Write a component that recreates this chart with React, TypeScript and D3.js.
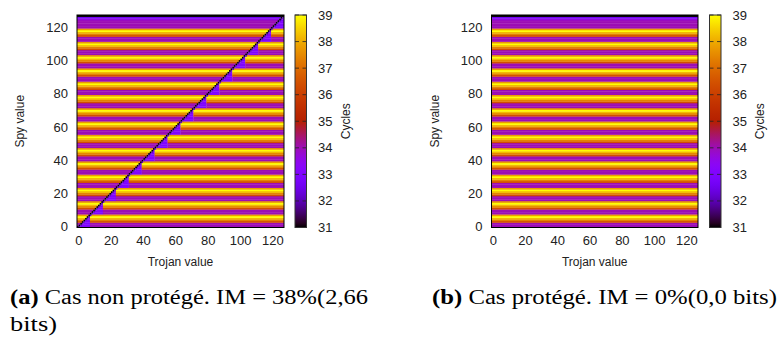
import React from 'react';
import * as d3 from 'd3';

// ---- data ----
const SPY_COUNT = 128;
const TROJAN_COUNT = 128;
const LINE_SIZE = 8;
// cycles measured for a spy value, by its offset inside the cache line (0..7)
const lineOffsetCycles = [34, 34, 34, 36.4, 37.4, 38.2, 39, 37.8];
// special rows at the very top
const topRowSpy = [127, 126, 125, 124, 123];
const topRowCycles = [31, 32.6, 33.6, 34, 34];
// leak (unprotected case)
const diagonalCycles = 31;
const nearDiagonalCycles = 32.2;
const sameLineCycles = 33;
const cbTicks = [31, 32, 33, 34, 35, 36, 37, 38, 39];
const axisTicks = [0, 20, 40, 60, 80, 100, 120];
const captions = [
  { tag: '(a)', text: ' Cas non protégé. IM = 38%(2,66', line2: 'bits)' },
  { tag: '(b)', text: ' Cas protégé. IM = 0%(0,0 bits)', line2: '' },
];

const CB_MIN = 31, CB_MAX = 39;

function palette(v: number) {
  const x = Math.max(0, Math.min(1, (v - CB_MIN) / (CB_MAX - CB_MIN)));
  const r = Math.sqrt(x);
  const g = x * x * x;
  const b = Math.max(0, Math.sin(2 * Math.PI * x));
  return d3.rgb(r * 255, g * 255, b * 255).formatHex();
}

function baseCycles(s: number) {
  const k = topRowSpy.indexOf(s);
  if (k >= 0) return topRowCycles[k];
  return lineOffsetCycles[s % LINE_SIZE];
}

function leakyCycles(t: number, s: number) {
  if (topRowSpy.indexOf(s) === 0) return topRowCycles[0];
  if (t === s) return diagonalCycles;
  if (t === s + 1) return Math.min(nearDiagonalCycles, baseCycles(s));
  const g = Math.floor(s / LINE_SIZE);
  if (t > s && t < (g + 1) * LINE_SIZE) return Math.min(sameLineCycles, baseCycles(s));
  return baseCycles(s);
}

const spyValues = d3.range(SPY_COUNT);
const trojanValues = d3.range(TROJAN_COUNT);

type Panel = {
  x0: number; x1: number; cbx: number; cbLabelX: number; cyclesX: number; spyX: number;
  fn: (t: number, s: number) => number; id: string;
};

const Y0 = 15, Y1 = 227.5;
const FONT = 'Liberation Sans, Arial, sans-serif';

function Heatmap({ p }: { p: Panel }) {
  const x = d3.scaleLinear().domain([-0.5, 127.5]).range([p.x0, p.x1]);
  const y = d3.scaleLinear().domain([-0.5, 127.5]).range([Y1, Y0]);
  const rects: JSX.Element[] = [];
  spyValues.forEach((s) => {
    let start = 0;
    let cur = p.fn(trojanValues[0], s);
    for (let i = 1; i <= trojanValues.length; i++) {
      const v = i < trojanValues.length ? p.fn(trojanValues[i], s) : NaN;
      if (v !== cur) {
        const xa = x(trojanValues[start] - 0.5), xb = x(trojanValues[i - 1] + 0.5);
        rects.push(
          <rect key={s + '-' + start} x={xa} width={xb - xa + 0.2} y={y(s + 0.5)}
            height={y(s - 0.5) - y(s + 0.5) + 0.3} fill={palette(cur)} />
        );
        start = i; cur = v;
      }
    }
  });
  const cbScale = d3.scaleLinear().domain([CB_MIN, CB_MAX]).range([Y1, Y0]);
  const stops = d3.range(0, 1.0001, 0.02);
  const cx = (p.x0 + p.x1) / 2;
  return (
    <g>
      <defs>
        <clipPath id={'clip' + p.id}><rect x={p.x0} y={Y0} width={p.x1 - p.x0} height={Y1 - Y0} /></clipPath>
        <linearGradient id={'grad' + p.id} x1="0" y1="1" x2="0" y2="0">
          {stops.map((f) => <stop key={f} offset={f} stopColor={palette(CB_MIN + f * (CB_MAX - CB_MIN))} />)}
        </linearGradient>
      </defs>
      <g clipPath={`url(#clip${p.id})`}>{rects}</g>
      <rect x={p.x0} y={Y0} width={p.x1 - p.x0} height={Y1 - Y0} fill="none" stroke="#000" strokeWidth={1} />
      {axisTicks.map((t) => (
        <text key={'x' + t} x={x(t) + 1} y={245} textAnchor="middle" fontSize={13} fontFamily={FONT} fill="#222">{t}</text>
      ))}
      {axisTicks.map((t) => (
        <text key={'y' + t} x={p.x0 - 9} y={y(t) + 4.5} textAnchor="end" fontSize={13} fontFamily={FONT} fill="#222">{t}</text>
      ))}
      <text x={cx} y={266} textAnchor="middle" fontSize={12} fontFamily={FONT} fill="#222">Trojan value</text>
      <text transform={`translate(${p.spyX},${(Y0 + Y1) / 2}) rotate(-90)`} textAnchor="middle" fontSize={12} fontFamily={FONT} fill="#222">Spy value</text>
      {/* colorbar */}
      <rect x={p.cbx} y={Y0} width={11.5} height={Y1 - Y0} fill={`url(#grad${p.id})`} />
      {cbTicks.map((t) => (
        <g key={'cb' + t}>
          <line x1={p.cbx} x2={p.cbx + 4} y1={cbScale(t)} y2={cbScale(t)} stroke="#222" strokeWidth={0.8} />
          <line x1={p.cbx + 7.5} x2={p.cbx + 11.5} y1={cbScale(t)} y2={cbScale(t)} stroke="#222" strokeWidth={0.8} />
          <text x={p.cbLabelX} y={cbScale(t) + 4.5} fontSize={13} fontFamily={FONT} fill="#222">{t}</text>
        </g>
      ))}
      <rect x={p.cbx} y={Y0} width={11.5} height={Y1 - Y0} fill="none" stroke="#333" strokeWidth={1} />
      <text transform={`translate(${p.cyclesX},${(Y0 + Y1) / 2}) rotate(-90)`} textAnchor="middle" fontSize={12} fontFamily={FONT} fill="#222">Cycles</text>
    </g>
  );
}

const panels: Panel[] = [
  { id: 'a', x0: 77, x1: 284, cbx: 295, cbLabelX: 318, cyclesX: 350, spyX: 24, fn: leakyCycles },
  { id: 'b', x0: 491.5, x1: 698, cbx: 709.5, cbLabelX: 732.5, cyclesX: 764, spyX: 439, fn: (t, s) => baseCycles(s) },
];

const SERIF = 'Liberation Serif, serif';

export default function App() {
  return (
    <svg width={780} height={341} style={{ position: 'absolute', left: 0, top: 0, background: '#fff' }}>
      {panels.map((p) => <Heatmap key={p.id} p={p} />)}
      <text x={10} y={304} fontSize={20} fontFamily={SERIF} fill="#000" textLength={358} lengthAdjust="spacingAndGlyphs">
        <tspan fontWeight="bold">{captions[0].tag}</tspan>{captions[0].text}
      </text>
      <text x={10} y={331} fontSize={20} fontFamily={SERIF} fill="#000" textLength={47} lengthAdjust="spacingAndGlyphs">{captions[0].line2}</text>
      <text x={432} y={304} fontSize={20} fontFamily={SERIF} fill="#000" textLength={345} lengthAdjust="spacingAndGlyphs">
        <tspan fontWeight="bold">{captions[1].tag}</tspan>{captions[1].text}
      </text>
    </svg>
  );
}
